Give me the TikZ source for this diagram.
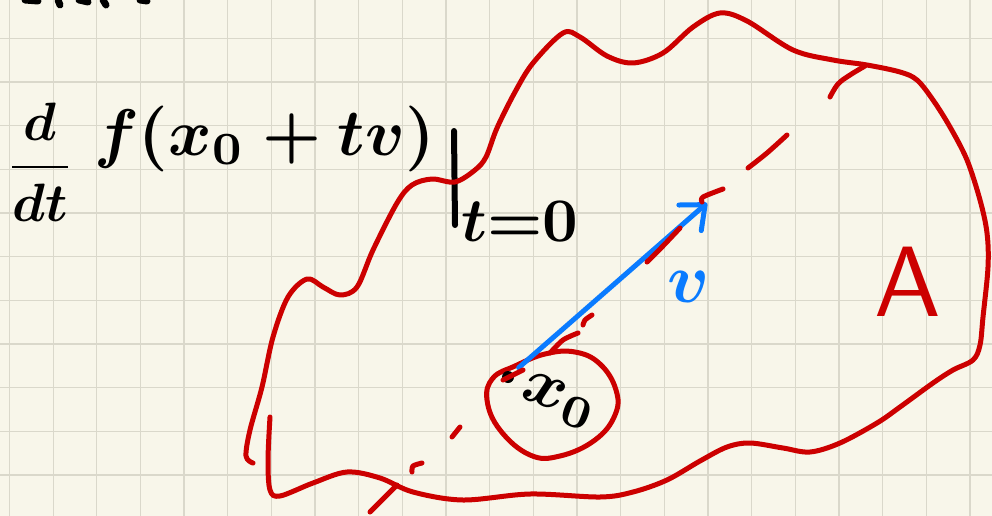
\documentclass[tikz,border=0pt]{standalone}
\usepackage{graphicx}
\usetikzlibrary{arrows.meta}
\definecolor{paper}{HTML}{F8F6EA}
\definecolor{gridc}{HTML}{DAD8CB}
\definecolor{pen}{HTML}{CC0000}
\definecolor{bluepen}{HTML}{0A7BFF}
\newcommand{\hwsize}[2]{\scalebox{#1}{#2}}
\tikzset{
  redline/.style={draw=pen, line width=5pt, line cap=round, line join=round},
  blueline/.style={draw=bluepen, line width=5pt, line cap=round, line join=round},
  blackline/.style={draw=black, line width=6pt, line cap=round},
  gridline/.style={draw=gridc, line width=1.3pt},
  label/.style={inner sep=0pt},
}
\begin{document}
\begin{tikzpicture}[x=1pt,y=-1pt]
\fill[paper] (0,0) rectangle (992,516);
\useasboundingbox (0,0) rectangle (992,516);
% grid
\foreach \i in {0,...,22} \draw[gridline] ({9.5+43.66*\i},0) -- ++(0,516);
\foreach \j in {1,...,12} \draw[gridline] (0,{-5.3+43.66*\j}) -- ++(992,0);

% cropped text fragments at the top
\draw[blackline, line width=7pt] (25,0) -- (38,1);
\draw[blackline, line width=7pt] (58,0) -- (60,5);
\draw[blackline, line width=7pt] (79,0) -- (88,2);
\draw[blackline, line width=7pt] (103,0) -- (106,5);
\draw[blackline, line width=7pt] (140,0) -- (147,1);

% formula
\node[label] (ddt) at (40,162) {\hwsize{5.4}{\boldmath$\displaystyle\frac{d}{dt}$}};
\node[label, anchor=base west] (expr) at (94,155) {\hwsize{6.6}{\boldmath$f(x_0+tv)$}};
\draw[blackline] (454,131) -- (455,225);
\node[label] (teq) at (520,222) {\hwsize{6.2}{\boldmath$t{=}0$}};

% region A
\draw[redline] plot[smooth, tension=0.55] coordinates {
 (253,463) (246,456) (250,430) (262,387) (273,337) (288,297) (307,279) (323,287)
 (340,295) (357,287) (373,250) (397,203) (412,185) (432,179) (455,182) (475,170)
 (486,157) (497,128) (515,92) (533,63) (563,33) (580,37) (607,56) (633,63) (663,53)
 (693,27) (720,13) (747,21) (793,50) (833,60) (867,65) (900,72) (917,80) (933,100)
 (950,127) (967,160) (980,200) (987,233) (988,267) (983,317) (980,345) (973,360)
 (953,370) (933,383) (900,407) (877,423) (840,443) (810,452) (783,448) (750,443)
 (727,447) (700,461) (667,480) (633,492) (600,497) (530,494) (463,500) (413,492)
 (380,478) (347,472) (313,483) (280,496) (270,490) (268,460) (270,417)};
\draw[redline] plot[smooth, tension=0.6] coordinates {(830,97) (838,84) (850,75) (865,66)};
\node[label, text=pen] (Alab) at (908,282) {\hwsize{10}{\sffamily A}};

% small neighbourhood of x0
\draw[redline] plot[smooth cycle, tension=0.7] coordinates {
 (493,378) (487,400) (500,430) (530,455) (560,456) (595,440) (615,415) (616,390)
 (600,364) (575,352) (545,354) (515,366)};

% point x0 and vector v
\node[circle, fill=black, inner sep=0pt, minimum size=12pt] (x0dot) at (508,377) {};
\coordinate (vtip) at (707,203);
\draw[blueline, shorten <=8pt, -{Straight Barb[length=20pt,width=34pt,round]}] (x0dot) -- (vtip);
\node[label, text=bluepen] (vlab) at (689,287) {\hwsize{7}{\boldmath$v$}};
\node[label, rotate=-20] (x0lab) at (559,401) {\hwsize{6.6}{\boldmath$x_0$}};

% dashed line through x0 in direction v
\draw[redline] plot[smooth] coordinates {(370,512) (380,502) (397,485)};
\draw[redline] plot[smooth] coordinates {(412,472) (413,466) (422,463)};
\draw[redline] (452,437) -- (460,427);
\draw[redline] (503,380) -- (523,370);
\draw[redline] plot[smooth] coordinates {(550,353) (563,340) (578,333)};
\draw[redline] plot[smooth] coordinates {(583,325) (585,320) (592,315)};
\draw[redline] plot[smooth] coordinates {(647,262) (662,247) (680,228)};
\draw[redline] plot[smooth] coordinates {(702,202) (703,197) (723,189)};
\draw[redline] plot[smooth] coordinates {(748,168) (767,153) (787,135)};
\end{tikzpicture}
\end{document}
